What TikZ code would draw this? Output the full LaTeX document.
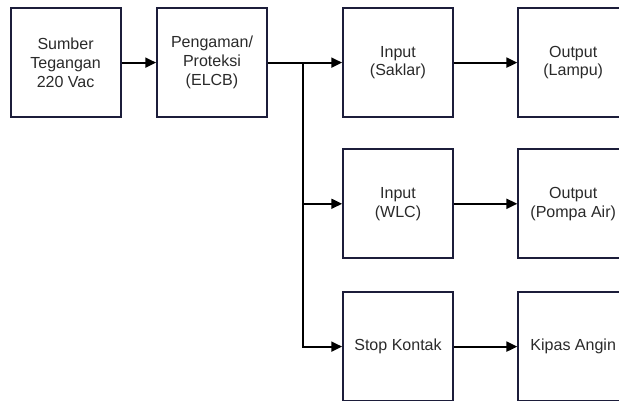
\documentclass[tikz,border=0pt]{standalone}
\usepackage{fontspec}
\setmainfont{Liberation Sans}
\usepackage{xcolor}
\usetikzlibrary{positioning,calc,arrows.meta}
\definecolor{boxline}{HTML}{1c1d3a}
\definecolor{txt}{HTML}{2a2a2a}

\begin{document}
\begin{tikzpicture}[>={Triangle[length=2.7mm,width=2.5mm]}, line width=1.3pt,
  blok/.style={draw=boxline, line width=1.3pt, fill=white, minimum width=2.75cm, minimum height=2.72cm, align=center, text=txt, font=\fontsize{11.4}{13.4}\selectfont, inner sep=0pt}]
  \useasboundingbox (0,0) rectangle (15.475,10.025);
  \clip (0,0) rectangle (15.475,10.025);

  % Sumber dan pengaman
  \node[blok] (sumber) at (1.64, 8.46) {Sumber\\Tegangan\\220 Vac};
  \node[blok] (elcb) at (5.30, 8.46) {Pengaman/\\Proteksi\\(ELCB)};

  % Input
  \node[blok] (saklar) at (9.95, 8.46) {Input\\(Saklar)};
  \node[blok] (wlc) at (9.95, 4.93) {Input\\(WLC)};
  \node[blok] (kontak) at (9.95, 1.36) {Stop Kontak};

  % Output
  \node[blok] (lampu) at (14.33, 8.46) {Output\\(Lampu)};
  \node[blok] (pompa) at (14.33, 4.93) {Output\\(Pompa Air)};
  \node[blok] (kipas) at (14.33, 1.36) {Kipas Angin};

  \coordinate (cabang) at (7.575, 8.46);

  \draw[->] (sumber.east) -- (elcb.west);
  \draw[->] (elcb.east) -- (saklar.west);
  \draw[->] (cabang) |- (wlc.west);
  \draw[->] (cabang) |- (kontak.west);

  \draw[->] (saklar.east) -- (lampu.west);
  \draw[->] (wlc.east) -- (pompa.west);
  \draw[->] (kontak.east) -- (kipas.west);
\end{tikzpicture}
\end{document}
